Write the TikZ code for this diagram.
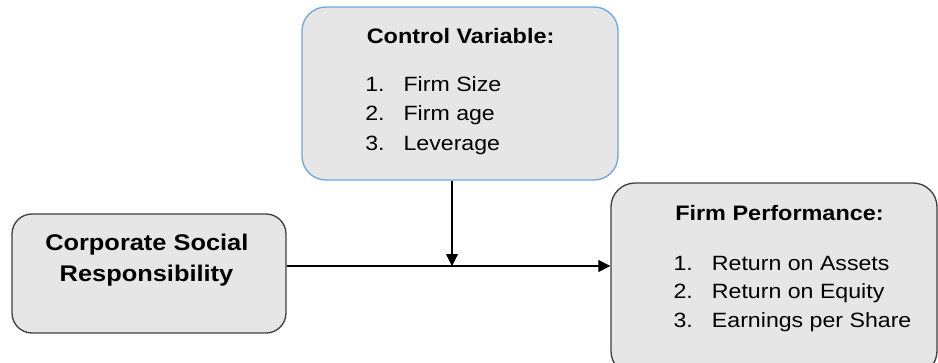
\documentclass[tikz,border=0pt]{standalone}
\usepackage{fontspec}
\setmainfont{Liberation Sans}[FakeStretch=1.12]
\usetikzlibrary{arrows.meta}
\definecolor{boxgray}{HTML}{E6E6E6}
\definecolor{boxblue}{HTML}{6FA8DC}
\definecolor{boxedge}{HTML}{404040}
\tikzset{
  panel/.style={draw=boxedge, fill=boxgray, rounded corners=18pt, line width=1pt, inner sep=0pt},
  link/.style={-{Triangle[length=9pt,width=9pt]}, line width=0.8pt},
  head/.style={font=\bfseries\fontsize{15.7}{18}\selectfont, anchor=base west, inner sep=0pt},
  item/.style={font=\fontsize{15.5}{18}\selectfont, anchor=base west, inner sep=0pt},
}
\begin{document}
\begin{tikzpicture}[x=0.75pt,y=-0.75pt]
	\clip (0,0) rectangle (938,362);
	\fill[white] (0,0) rectangle (938,362);
	% boxes
	\node[panel, draw=boxblue, minimum width=237pt, minimum height=129.75pt] (ctrl) at (460,93.5) {};
	\node[panel, rounded corners=15pt, minimum width=205.5pt, minimum height=89.25pt] (csr) at (149,273.5) {};
	\node[panel, minimum width=244.5pt, minimum height=144pt] (perf) at (774,279) {};
	% texts
	\node[head] (ctrlhead) at (366.5,43.3) {Control Variable:};
	\foreach \n/\t [count=\i] in {1./Firm Size, 2./Firm age, 3./Leverage}
		{\node[item] (ctrlnum\i) at (365,62.2+29.3*\i) {\n};
		 \node[item] (ctrlitem\i) at (403.3,62.2+29.3*\i) {\t};}
	\node[head, font=\bfseries\fontsize{17}{23.25}\selectfont] (csrtop) at (45,250) {Corporate Social};
	\node[head, font=\bfseries\fontsize{17}{23.25}\selectfont, anchor=base] (csrbot) at (146.5,281.3) {Responsibility};
	\node[head] (perfhead) at (675,220) {Firm Performance:};
	\foreach \n/\t [count=\i] in {1./Return on Assets, 2./Return on Equity, 3./Earnings per Share}
		{\node[item] (perfnum\i) at (673.3,241.5+28.5*\i) {\n};
		 \node[item] (perfitem\i) at (711.7,241.5+28.5*\i) {\t};}
	% connectors
	\coordinate (meet) at (452,266);
	\draw[link] (csr.east |- meet) -- (perf.west |- meet);
	\draw[link] (ctrl.south -| meet) -- (meet);
\end{tikzpicture}
\end{document}
